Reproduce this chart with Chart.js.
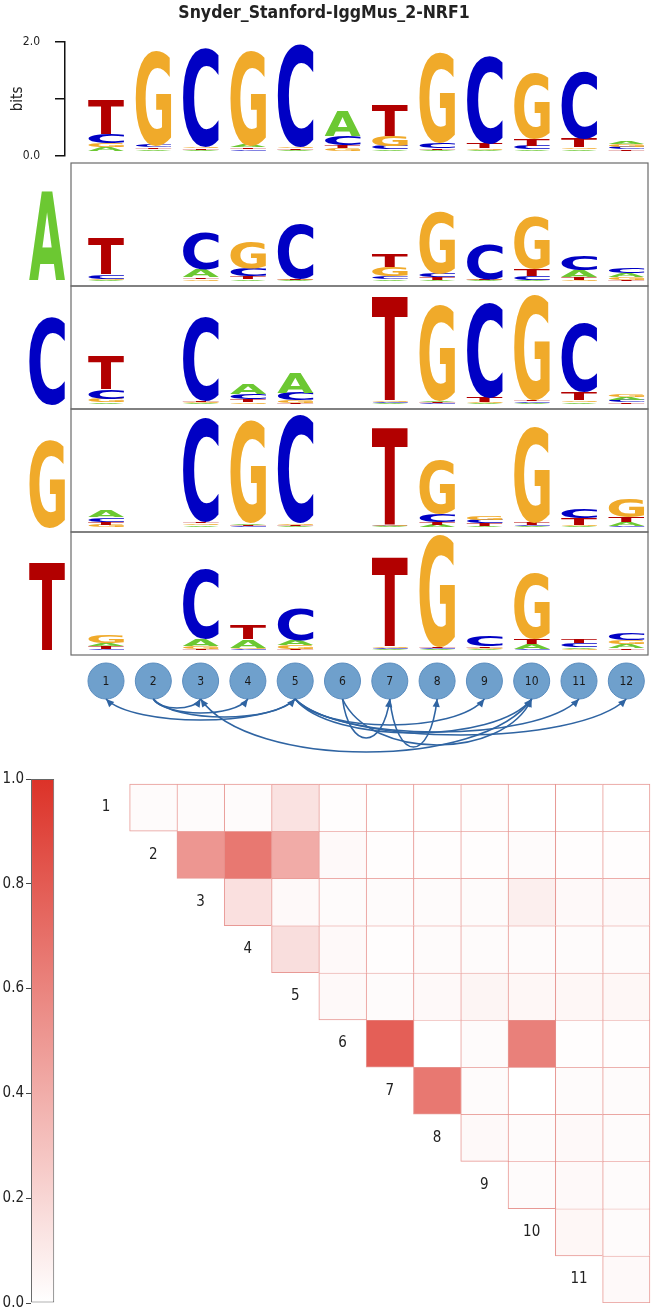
<!DOCTYPE html>
<html>
<head>
<meta charset="utf-8">
<title>Snyder_Stanford-IggMus_2-NRF1</title>
<script src="https://cdn.jsdelivr.net/npm/chart.js@4.4.1/dist/chart.umd.min.js"></script>
<style>
  body { margin: 0; background: #fff; }
  #figure { position: relative; width: 653px; height: 1316px; overflow: hidden; background: #fff; }
  #figure canvas { position: absolute; left: 0; }
</style>
</head>
<body>
<div id="figure">
  <canvas id="logo-top" width="653" height="178" style="top:0px"></canvas>
  <canvas id="panel-A" width="653" height="141" style="top:149px"></canvas>
  <canvas id="panel-C" width="653" height="141" style="top:272px"></canvas>
  <canvas id="panel-G" width="653" height="141" style="top:395px"></canvas>
  <canvas id="panel-T" width="653" height="141" style="top:518px"></canvas>
  <canvas id="arcs" width="653" height="112" style="top:650px"></canvas>
  <canvas id="heatmap" width="653" height="556" style="top:760px"></canvas>
</div>
<script>
// ---- data ----
const titleText = "Snyder_Stanford-IggMus_2-NRF1";
const positions = [1, 2, 3, 4, 5, 6, 7, 8, 9, 10, 11, 12];
const letterOrder = ["A", "C", "G", "T"];
const bitTicks = [0, 1, 2];

// overall logo (bits)
const topA = [0.06, 0.03, 0.02, 0.04, 0.02, 0.45, 0.02, 0.02, 0.02, 0.03, 0.03, 0.05];
const topC = [0.17, 0.04, 1.74, 0.03, 1.80, 0.16, 0.06, 0.10, 1.55, 0.06, 1.20, 0.04];
const topG = [0.07, 1.66, 0.03, 1.66, 0.03, 0.04, 0.18, 1.60, 0.03, 1.17, 0.03, 0.04];
const topT = [0.60, 0.03, 0.02, 0.03, 0.02, 0.05, 0.55, 0.03, 0.08, 0.12, 0.15, 0.03];

// conditional logos, one per residue
const condA_A = [0.02, 0, 0.14, 0.03, 0.01, 0, 0.03, 0.02, 0.01, 0.02, 0.12, 0.06];
const condA_C = [0.07, 0, 0.63, 0.13, 0.93, 0, 0.05, 0.07, 0.60, 0.06, 0.26, 0.10];
const condA_G = [0.02, 0, 0.03, 0.45, 0.01, 0, 0.16, 1.05, 0.01, 0.90, 0.02, 0.05];
const condA_T = [0.62, 0, 0.03, 0.05, 0.01, 0, 0.22, 0.04, 0.01, 0.12, 0.04, 0.02];

const condC_A = [0.03, 0, 0.02, 0.17, 0.34, 0, 0.02, 0.03, 0.02, 0.02, 0.03, 0.05];
const condC_C = [0.16, 0, 1.42, 0.08, 0.13, 0, 0.02, 0.02, 1.60, 0.03, 1.18, 0.04];
const condC_G = [0.06, 0, 0.02, 0.03, 0.04, 0, 0.02, 1.62, 0.02, 1.80, 0.03, 0.05];
const condC_T = [0.55, 0, 0.02, 0.05, 0.02, 0, 1.77, 0.02, 0.08, 0.03, 0.14, 0.03];

const condG_A = [0.10, 0, 0.03, 0.03, 0.02, 0, 0.01, 0.04, 0.02, 0.02, 0.02, 0.07];
const condG_C = [0.07, 0, 1.77, 0.02, 1.83, 0, 0.01, 0.14, 0.06, 0.02, 0.15, 0.02];
const condG_G = [0.04, 0, 0.03, 1.75, 0.03, 0, 0.01, 0.92, 0.07, 1.62, 0.02, 0.33];
const condG_T = [0.05, 0, 0.03, 0.02, 0.02, 0, 1.65, 0.05, 0.04, 0.04, 0.11, 0.08];

const condT_A = [0.05, 0, 0.12, 0.14, 0.08, 0, 0.02, 0.02, 0.02, 0.08, 0.03, 0.07];
const condT_C = [0.02, 0, 1.20, 0.02, 0.55, 0, 0.02, 0.02, 0.17, 0.02, 0.07, 0.11];
const condT_G = [0.13, 0, 0.04, 0.02, 0.07, 0, 0.02, 1.90, 0.02, 1.12, 0.02, 0.07];
const condT_T = [0.04, 0, 0.02, 0.24, 0.02, 0, 1.52, 0.02, 0.02, 0.09, 0.07, 0.03];

// big residue letter at the left of each panel (bits) and its x slot
const rowLetterBits = [1.52, 1.49, 1.49, 1.49];
const rowLetterX = -0.25;

// dependency arcs between positions (lowest point in arc-axis units)
const arcFrom = [5, 2, 2, 2, 5, 5, 5, 5, 6, 6, 7, 10];
const arcTo   = [1, 3, 4, 5, 9, 10, 11, 12, 7, 10, 8, 3];
const arcLow  = [-3.9, -2.7, -3.2, -3.6, -4.4, -5.2, -5.1, -5.4, -5.7, -6.4, -6.6, -7.1];

// pairwise dependency matrix, row i holds pairs (i, i+1) ... (i, 12)
const depRow1  = [0.02, 0.02, 0.02, 0.14, 0.01, 0.00, 0.00, 0.01, 0.00, 0.00, 0.00];
const depRow2  = [0.51, 0.66, 0.41, 0.03, 0.01, 0.01, 0.01, 0.02, 0.01, 0.01];
const depRow3  = [0.15, 0.03, 0.02, 0.02, 0.02, 0.02, 0.08, 0.03, 0.03];
const depRow4  = [0.16, 0.03, 0.01, 0.02, 0.02, 0.02, 0.02, 0.02];
const depRow5  = [0.03, 0.02, 0.03, 0.05, 0.04, 0.04, 0.04];
const depRow6  = [0.78, 0.00, 0.02, 0.62, 0.01, 0.01];
const depRow7  = [0.66, 0.02, 0.00, 0.02, 0.02];
const depRow8  = [0.03, 0.02, 0.03, 0.02];
const depRow9  = [0.02, 0.03, 0.02];
const depRow10 = [0.04, 0.02];
const depRow11 = [0.03];
const depRows = [depRow1, depRow2, depRow3, depRow4, depRow5, depRow6, depRow7, depRow8, depRow9, depRow10, depRow11];
const colorbarTicks = [0, 0.2, 0.4, 0.6, 0.8, 1.0];
const colorbarX = -0.34;

// ---- styles / layout ----
const FONT = '"DejaVu Sans Condensed", "DejaVu Sans", sans-serif';
const LOGO_FONT = 'bold 100px "DejaVu Sans"';
const letterColors = { A: "#6cc832", C: "#0000c4", G: "#f0aa2a", T: "#b20000" };
const HEAT_HIGH = [220, 50, 40];
const ARC_COLOR = "#2f64a2";
const COL_PX = 47.3;   // width of one position
const POS1_PX = 106;   // centre of position 1

Chart.defaults.font.family = FONT;
Chart.defaults.color = "#222";

function xRange(leftPx, rightPx) {
  return { min: 1 - (POS1_PX - leftPx) / COL_PX, max: 1 + (rightPx - POS1_PX) / COL_PX };
}

function positionTicks(scale) {
  scale.ticks = positions.map((v) => ({ value: v }));
}

function heatColor(v) {
  const c = [255, 255, 255].map((w, k) => Math.round(w + (HEAT_HIGH[k] - w) * v));
  return `rgb(${c[0]}, ${c[1]}, ${c[2]})`;
}

// ---- letter drawing ----
const glyphCache = {};
function glyphBox(ctx, ch) {
  if (!glyphCache[ch]) {
    ctx.save();
    ctx.font = LOGO_FONT;
    const m = ctx.measureText(ch);
    ctx.restore();
    glyphCache[ch] = {
      left: m.actualBoundingBoxLeft,
      w: m.actualBoundingBoxLeft + m.actualBoundingBoxRight,
      asc: m.actualBoundingBoxAscent,
      h: m.actualBoundingBoxAscent + m.actualBoundingBoxDescent,
    };
  }
  return glyphCache[ch];
}

function drawLetter(ctx, ch, x0, y0, w, h) {
  if (h < 0.4) return;
  const g = glyphBox(ctx, ch);
  ctx.save();
  ctx.translate(x0, y0);
  ctx.scale(w / g.w, h / g.h);
  ctx.font = LOGO_FONT;
  ctx.textAlign = "left";
  ctx.textBaseline = "alphabetic";
  ctx.fillStyle = letterColors[ch];
  ctx.fillText(ch, g.left, g.asc);
  ctx.restore();
}

const logoLetters = {
  id: "logoLetters",
  afterDatasetsDraw(chart) {
    const ctx = chart.ctx;
    chart.data.datasets.forEach((ds, di) => {
      const meta = chart.getDatasetMeta(di);
      meta.data.forEach((bar, i) => {
        const p = bar.getProps(["x", "y", "base", "width"], true);
        const top = Math.min(p.y, p.base);
        drawLetter(ctx, ds.letters[i], p.x - p.width / 2, top, p.width, Math.abs(p.base - p.y));
      });
    });
  },
};

const panelBox = {
  id: "panelBox",
  beforeDatasetsDraw(chart) {
    const { ctx, chartArea: a } = chart;
    ctx.save();
    ctx.strokeStyle = "#6a6a6a";
    ctx.lineWidth = 1.2;
    ctx.strokeRect(a.left, a.top, a.right - a.left, a.bottom - a.top);
    ctx.restore();
  },
};

// stack letters smallest first so the tallest one ends up on top
function logoDatasets(cols, axisId) {
  const sets = letterOrder.map(() => ({ data: [], letters: [] }));
  positions.forEach((pos, i) => {
    const ranked = letterOrder
      .map((l, k) => ({ l, v: cols[k][i] }))
      .sort((a, b) => a.v - b.v);
    ranked.forEach((r, k) => {
      sets[k].data.push({ x: pos, y: r.v });
      sets[k].letters.push(r.l);
    });
  });
  return sets.map((s) => ({ ...s, yAxisID: axisId, backgroundColor: "rgba(0,0,0,0)", borderWidth: 0 }));
}

const commonOpts = {
  responsive: false,
  animation: false,
  events: [],
};

// ---- overall logo ----
new Chart(document.getElementById("logo-top"), {
  type: "bar",
  data: { datasets: logoDatasets([topA, topC, topG, topT], "letters") },
  options: {
    ...commonOpts,
    layout: { autoPadding: false, padding: { left: 0, right: 5, top: 0, bottom: 15 } },
    datasets: { bar: { categoryPercentage: 1, barPercentage: 0.76 } },
    scales: {
      x: { type: "linear", offset: false, stacked: true, display: false, ...xRange(65, 648), afterBuildTicks: positionTicks },
      y: {
        position: "left",
        min: 0,
        max: 2,
        afterFit(s) { s.width = 65; },
        afterBuildTicks(s) { s.ticks = bitTicks.map((v) => ({ value: v })); },
        ticks: {
          callback: (v) => (v === 1 ? "" : v.toFixed(1)),
          font: { size: 12 },
          color: "#222",
          padding: 15,
        },
        grid: { drawOnChartArea: false, drawTicks: true, tickLength: 10, color: "#111", lineWidth: 1.5 },
        border: { display: true, color: "#111", width: 1.5 },
        title: { display: true, text: "bits", font: { size: 15 }, color: "#222", padding: { top: 9, bottom: 0 } },
      },
      // letters sit a little above the spine's zero, as in the source logo
      letters: { axis: "y", stacked: true, display: false, min: -0.09, max: 1.91 },
    },
    plugins: {
      legend: { display: false },
      tooltip: { enabled: false },
      title: {
        display: true,
        text: titleText,
        font: { size: 17.5, weight: "bold" },
        color: "#222",
        padding: { top: 3, bottom: 18 },
      },
    },
  },
  plugins: [logoLetters],
});

// ---- conditional panels ----
function panelChart(id, cols, rowLetter, rowBits) {
  const sets = logoDatasets(cols, "y");
  sets.push({
    data: [{ x: rowLetterX, y: rowBits }],
    letters: [rowLetter],
    backgroundColor: "rgba(0,0,0,0)",
    borderWidth: 0,
  });
  return new Chart(document.getElementById(id), {
    type: "bar",
    data: { datasets: sets },
    options: {
      ...commonOpts,
      layout: { autoPadding: false, padding: { left: 71, right: 5, top: 14, bottom: 4 } },
      datasets: { bar: { categoryPercentage: 1, barPercentage: 0.76 } },
      scales: {
        x: { type: "linear", offset: false, stacked: true, display: false, ...xRange(71, 648), afterBuildTicks: positionTicks },
        y: { stacked: true, display: false, min: -0.085, max: 2.0 },
      },
      plugins: { legend: { display: false }, tooltip: { enabled: false } },
    },
    plugins: [panelBox, logoLetters],
  });
}

panelChart("panel-A", [condA_A, condA_C, condA_G, condA_T], "A", rowLetterBits[0]);
panelChart("panel-C", [condC_A, condC_C, condC_G, condC_T], "C", rowLetterBits[1]);
panelChart("panel-G", [condG_A, condG_C, condG_G, condG_T], "G", rowLetterBits[2]);
panelChart("panel-T", [condT_A, condT_C, condT_G, condT_T], "T", rowLetterBits[3]);

// ---- position nodes + dependency arcs ----
const nodeLabels = {
  id: "nodeLabels",
  afterDatasetsDraw(chart) {
    const ctx = chart.ctx;
    const meta = chart.getDatasetMeta(0);
    ctx.save();
    ctx.font = `12px ${FONT}`;
    ctx.fillStyle = "#1a1a1a";
    ctx.textAlign = "center";
    ctx.textBaseline = "middle";
    meta.data.forEach((pt, i) => ctx.fillText(String(positions[i]), pt.x, pt.y + 1));
    ctx.restore();
  },
};

const depArcs = {
  id: "depArcs",
  afterDatasetsDraw(chart) {
    const { ctx, scales: { x, y } } = chart;
    const r = chart.data.datasets[0].pointRadius;
    const yEnd = y.getPixelForValue(0) + r;
    ctx.save();
    ctx.strokeStyle = ARC_COLOR;
    ctx.fillStyle = ARC_COLOR;
    ctx.lineWidth = 1.6;
    arcFrom.forEach((from, k) => {
      const x1 = x.getPixelForValue(from);
      const x2 = x.getPixelForValue(arcTo[k]);
      const low = y.getPixelForValue(arcLow[k]);
      const cy = yEnd + (low - yEnd) / 0.75;
      const dx = x2 - x1;
      const c1x = x1 + dx * 0.15;
      const c2x = x2 - dx * 0.15;
      ctx.beginPath();
      ctx.moveTo(x1, yEnd);
      ctx.bezierCurveTo(c1x, cy, c2x, cy, x2, yEnd);
      ctx.stroke();
      // arrow head at the target node
      const ang = Math.atan2(yEnd - cy, x2 - c2x);
      const hl = 8, hw = 3.6;
      const bx = x2 - Math.cos(ang) * hl, by = yEnd - Math.sin(ang) * hl;
      const px = -Math.sin(ang) * hw, py = Math.cos(ang) * hw;
      ctx.beginPath();
      ctx.moveTo(x2, yEnd);
      ctx.lineTo(bx + px, by + py);
      ctx.lineTo(bx - px, by - py);
      ctx.closePath();
      ctx.fill();
    });
    ctx.restore();
  },
};

new Chart(document.getElementById("arcs"), {
  type: "scatter",
  data: {
    datasets: [{
      data: positions.map((p) => ({ x: p, y: 0 })),
      pointRadius: 18,
      pointBackgroundColor: "#6fa0cc",
      pointBorderColor: "#5b8dbf",
      pointBorderWidth: 1,
    }],
  },
  options: {
    ...commonOpts,
    layout: { autoPadding: false, padding: { left: 65, right: 5, top: 5, bottom: 2 } },
    scales: {
      x: { type: "linear", offset: false, display: false, ...xRange(65, 648) },
      y: { type: "linear", display: false, min: -7.9, max: 2.6 },
    },
    plugins: { legend: { display: false }, tooltip: { enabled: false } },
  },
  plugins: [depArcs, nodeLabels],
});

// ---- dependency heatmap + colour bar ----
const rowLabels = {
  id: "rowLabels",
  afterDatasetsDraw(chart) {
    const { ctx, scales: { x, rows } } = chart;
    ctx.save();
    ctx.font = `15px ${FONT}`;
    ctx.fillStyle = "#222";
    ctx.textAlign = "center";
    ctx.textBaseline = "middle";
    depRows.forEach((_, k) => {
      const i = k + 1;
      ctx.fillText(String(i), x.getPixelForValue(i), rows.getPixelForValue(i));
    });
    ctx.restore();
  },
};

const cellSets = depRows.map((vals, k) => {
  const i = k + 1;
  return {
    yAxisID: "rows",
    data: vals.map((v, n) => ({ x: i + 1 + n, y: [i - 0.5, i + 0.5] })),
    backgroundColor: vals.map(heatColor),
    borderColor: "rgba(214, 70, 62, 0.55)",
    borderSkipped: false,
    borderWidth: (c) => ({
      top: 1,
      left: 1,
      right: c.raw && c.raw.x === 12 ? 1 : 0,
      bottom: c.raw && c.raw.x === i + 1 ? 1 : 0,
    }),
  };
});

const colorbarSet = {
  yAxisID: "cb",
  data: [{ x: colorbarX, y: [0, 1] }],
  barPercentage: 0.49,
  borderColor: "#666",
  borderWidth: 1,
  borderSkipped: false,
  backgroundColor(c) {
    const chart = c.chart;
    const s = chart.scales.cb;
    if (!chart.chartArea || !s) return heatColor(0.5);
    const g = chart.ctx.createLinearGradient(0, s.getPixelForValue(0), 0, s.getPixelForValue(1));
    g.addColorStop(0, heatColor(0));
    g.addColorStop(1, heatColor(1));
    return g;
  },
};

new Chart(document.getElementById("heatmap"), {
  type: "bar",
  data: { datasets: [colorbarSet, ...cellSets] },
  options: {
    ...commonOpts,
    layout: { autoPadding: false, padding: { left: 0, right: 1, top: 19, bottom: 13 } },
    datasets: { bar: { grouped: false, categoryPercentage: 1, barPercentage: 1 } },
    scales: {
      x: { type: "linear", offset: false, display: false, ...xRange(31, 652), afterBuildTicks: positionTicks },
      cb: {
        axis: "y",
        position: "left",
        min: 0,
        max: 1,
        afterFit(s) { s.width = 31; },
        afterBuildTicks(s) { s.ticks = colorbarTicks.map((v) => ({ value: v })); },
        ticks: { callback: (v) => v.toFixed(1), font: { size: 15 }, color: "#222", padding: 2 },
        grid: { drawOnChartArea: false, drawTicks: true, tickLength: 5, color: "#444" },
        border: { display: false },
      },
      rows: { axis: "y", display: false, reverse: true, min: 0.394, max: 11.5 },
    },
    plugins: { legend: { display: false }, tooltip: { enabled: false } },
  },
  plugins: [rowLabels],
});
</script>
</body>
</html>
